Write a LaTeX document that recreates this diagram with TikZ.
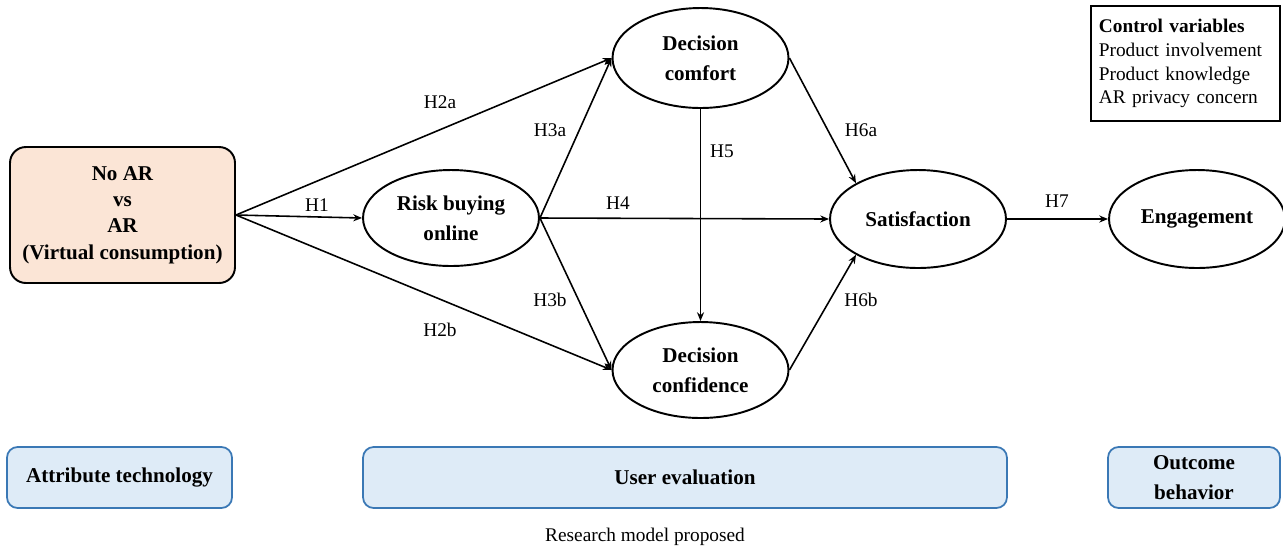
\documentclass[tikz,border=0pt]{standalone}
\usepackage{fontspec}
\setmainfont{Liberation Serif}
\usetikzlibrary{shapes.geometric, arrows.meta}
\definecolor{peach}{HTML}{FBE5D6}
\definecolor{paleblue}{HTML}{DEEBF7}
\definecolor{boxblue}{HTML}{3A78B5}

\begin{document}
\begin{tikzpicture}[x = 0.02cm, y = -0.02cm,
    construct/.style = {ellipse, draw, line width = 1.1pt, inner sep = 0pt,
      minimum width = 3.52cm, minimum height = 1.92cm, align = center,
      font = \fontsize{12}{17}\selectfont\bfseries},
    link/.style = {-{Stealth[length = 5pt, width = 4pt]}, line width = 0.9pt},
    hyp/.style = {font = \fontsize{11}{13}\selectfont},
    stage/.style = {draw = boxblue, fill = paleblue, line width = 1pt,
      rounded corners = 6pt, minimum height = 1.22cm, align = center,
      font = \fontsize{12}{17}\selectfont\bfseries}]
  \useasboundingbox (0, 0) rectangle (1283, 549);
  % treatment
  \node[draw, fill = peach, line width = 1.1pt, rounded corners = 9pt,
    minimum width = 4.5cm, minimum height = 2.72cm, align = center,
    font = \fontsize{12}{15}\selectfont\bfseries] (tech) at (122.5, 215)
    {No AR\\vs\\AR\\(Virtual consumption)};
  % constructs
  \node[construct] (risk) at (451, 218) {Risk buying\\online};
  \node[construct, minimum height = 2cm] (comfort) at (700.5, 58) {Decision\\comfort};
  \node[construct] (confid) at (700.5, 370) {Decision\\confidence};
  \node[construct, minimum height = 1.96cm] (satis) at (918, 219) {Satisfaction};
  \node[construct, minimum height = 1.96cm] (engage) at (1197, 219) {Engagement};
  % control variables
  \node[draw, line width = 1.1pt, text width = 3.46cm, minimum height = 2.3cm,
    align = left, anchor = north west, inner xsep = 4.5pt,
    font = \fontsize{11}{13.6}\selectfont] (control) at (1090, 5)
    {\textbf{Control variables}\\Product involvement\\Product knowledge\\AR privacy concern};
  % hypotheses
  \draw[link] (tech.east) -- (comfort.west);
  \draw[link] (tech.east) -- (risk.west);
  \draw[link] (tech.east) -- (confid.west);
  \draw[link] (risk.east) -- (comfort.west);
  \draw[link] (risk.east) -- (satis.west);
  \draw[link] (risk.east) -- (confid.west);
  \draw[link] (comfort.south) -- (confid.north);
  \draw[link] (comfort.east) -- (satis.150);
  \draw[link] (confid.east) -- (satis.210);
  \draw[link] (satis.east) -- (engage.west);
  \node[hyp] (h1) at (317, 205) {H1};
  \node[hyp] (h2a) at (440, 102) {H2a};
  \node[hyp] (h2b) at (440, 330) {H2b};
  \node[hyp] (h3a) at (550, 130) {H3a};
  \node[hyp] (h3b) at (550, 300) {H3b};
  \node[hyp] (h4) at (618, 203) {H4};
  \node[hyp] (h5) at (722, 151) {H5};
  \node[hyp] (h6a) at (861, 130) {H6a};
  \node[hyp] (h6b) at (861, 300) {H6b};
  \node[hyp] (h7) at (1057, 201) {H7};
  % stages
  \node[stage, minimum width = 4.5cm] (attr) at (119.5, 477.5) {Attribute technology};
  \node[stage, minimum width = 12.88cm] (user) at (685, 477.5) {User evaluation};
  \node[stage, minimum width = 3.44cm] (outcome) at (1194, 477.5) {Outcome\\behavior};
  \node[font = \fontsize{11}{13}\selectfont] (caption) at (645, 537) {Research model proposed};
\end{tikzpicture}
\end{document}
